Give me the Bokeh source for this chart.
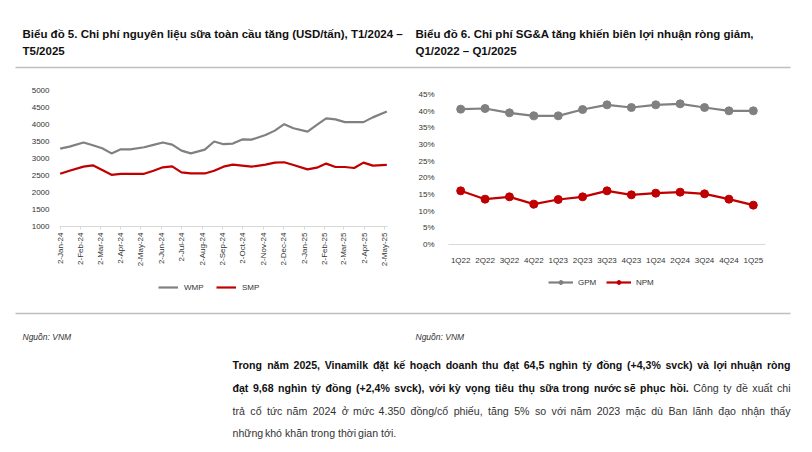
import math
import unicodedata
import pandas as pd
from bokeh.plotting import figure
from bokeh.models import (Range1d, FactorRange, FixedTicker, DatetimeTickFormatter,
                          PrintfTickFormatter, Legend, LegendItem)
from bokeh.layouts import column, row
from bokeh.embed import file_html
from bokeh.resources import INLINE
from bokeh.core.properties import value

FONT = "Liberation Sans"
NAN = float("nan")

# ---------------- data ----------------
gdt_dates = ["2024-01-02", "2024-01-16", "2024-02-06", "2024-02-20", "2024-03-05", "2024-03-19",
             "2024-04-02", "2024-04-16", "2024-05-07", "2024-05-21", "2024-06-04", "2024-06-18",
             "2024-07-02", "2024-07-16", "2024-08-06", "2024-08-20", "2024-09-03", "2024-09-17",
             "2024-10-01", "2024-10-15", "2024-11-05", "2024-11-19", "2024-12-03", "2024-12-17",
             "2025-01-07", "2025-01-21", "2025-02-04", "2025-02-18", "2025-03-04", "2025-03-18",
             "2025-04-01", "2025-04-15", "2025-05-06"]
wmp = [3290, 3350, 3470, 3390, 3300, 3150, 3270, 3270, 3330, 3400, 3470, 3410,
       3230, 3150, 3260, 3500, 3420, 3440, 3560, 3555, 3690, 3820, 4010, 3890,
       3790, 3990, 4180, 4150, 4070, 4070, 4070, 4210, 4380]
smp = [2550, 2640, 2760, 2800, 2660, 2520, 2550, 2550, 2550, 2640, 2740, 2770,
       2590, 2560, 2560, 2640, 2760, 2820, 2790, 2760, 2820, 2880, 2890, 2810,
       2680, 2730, 2850, 2750, 2750, 2720, 2880, 2790, 2810]
month_ticks = ["2024-01-02", "2024-02-02", "2024-03-02", "2024-04-02", "2024-05-02", "2024-06-02",
               "2024-07-02", "2024-08-02", "2024-09-02", "2024-10-02", "2024-11-02", "2024-12-02",
               "2025-01-02", "2025-02-02", "2025-03-02", "2025-04-02", "2025-05-02"]
y1_ticks = [1000, 1500, 2000, 2500, 3000, 3500, 4000, 4500, 5000]

quarters = ["1Q22", "2Q22", "3Q22", "4Q22", "1Q23", "2Q23", "3Q23", "4Q23",
            "1Q24", "2Q24", "3Q24", "4Q24", "1Q25"]
gpm = [40.6, 40.8, 39.5, 38.6, 38.6, 40.5, 41.9, 41.1, 41.9, 42.2, 41.1, 40.1, 40.1]
npm = [16.1, 13.6, 14.3, 12.1, 13.5, 14.3, 16.1, 14.9, 15.4, 15.7, 15.2, 13.6, 11.8]
y2_ticks = [0, 5, 10, 15, 20, 25, 30, 35, 40, 45]

title_left = ["Biểu đồ 5. Chi phí nguyên liệu sữa toàn cầu tăng (USD/tấn), T1/2024 –", "T5/2025"]
title_right = ["Biểu đồ 6. Chi phí SG&A tăng khiến biên lợi nhuận ròng giảm,", "Q1/2022 – Q1/2025"]
source_text = "Nguồn: VNM"

# paragraph lines: list of (text, bold) runs per line
para_lines = [
    [("Trong năm 2025, Vinamilk đặt kế hoạch doanh thu đạt 64,5 nghìn tỷ đồng (+4,3% svck) và lợi nhuận ròng", True)],
    [("đạt 9,68 nghìn tỷ đồng (+2,4% svck), với kỳ vọng tiêu thụ sữa trong nước sẽ phục hồi.", True),
     ("Công ty đề xuất chi", False)],
    [("trả cổ tức năm 2024 ở mức 4.350 đồng/cổ phiếu, tăng 5% so với năm 2023 mặc dù Ban lãnh đạo nhận thấy", False)],
    [("những khó khăn trong thời gian tới.", False)],
]

GRAY = "#808080"
RED = "#c00000"
LABEL = "#333333"

# approximate Arial/Liberation advance widths (1/1000 em)
_REG = dict(zip("abcdefghijklmnopqrstuvwxyz",
                [556, 556, 500, 556, 556, 278, 556, 556, 222, 222, 500, 222, 833, 556, 556, 556, 556, 333, 500, 278, 556, 500, 722, 500, 500, 500]))
_BLD = dict(zip("abcdefghijklmnopqrstuvwxyz",
                [556, 611, 556, 611, 556, 333, 611, 611, 278, 278, 556, 278, 889, 611, 611, 611, 611, 389, 556, 333, 611, 556, 778, 556, 556, 500]))
_UP = dict(zip("ABCDEFGHIJKLMNOPQRSTUVWXYZ",
               [667, 667, 722, 722, 667, 611, 778, 722, 278, 500, 667, 556, 833, 722, 778, 667, 778, 722, 667, 611, 722, 667, 944, 667, 667, 611]))
_PUN = {" ": 278, ",": 278, ".": 278, "(": 333, ")": 333, "+": 584, "%": 889, "/": 278, ":": 278, "-": 333}


def text_width(s, size, bold):
    w = 0
    for ch in s:
        base = unicodedata.normalize("NFD", ch)[0]
        if base == "đ":
            base = "d"
        if base.isdigit():
            w += 556
        elif base in _REG:
            w += (_BLD if bold else _REG)[base]
        elif base in _UP:
            w += _UP[base]
        else:
            w += _PUN.get(base, 556)
    return w * size / 1000.0


def justify(runs, x0, x1, size, justify_line=True):
    words = []
    for txt, b in runs:
        for wd in txt.split(" "):
            if wd:
                words.append((wd, b))
    widths = [text_width(w, size, b) for w, b in words]
    if justify_line and len(words) > 1:
        gap = (x1 - x0 - sum(widths)) / (len(words) - 1)
    else:
        gap = 0.278 * size
    xs, x = [], x0
    for wdt in widths:
        xs.append(x)
        x += wdt + gap
    return words, xs


def blank(w, h):
    f = figure(width=w, height=h, x_range=Range1d(0, w), y_range=Range1d(h, 0),
               output_backend="svg", toolbar_location=None, min_border=0,
               x_axis_location=None, y_axis_location=None)
    f.grid.visible = False
    f.outline_line_color = None
    return f


# ---------------- header ----------------
hdr = blank(812, 70)
hdr.text(x=[22, 22, 415, 415], y=[33, 50, 33, 50],
         text=[title_left[0], title_left[1], title_right[0], title_right[1]],
         text_font=value(FONT), text_font_style="bold", text_font_size="11.5px",
         text_baseline="middle", text_color="#111111")
hdr.segment(x0=[15], y0=[67], x1=[790], y1=[67], line_color="#bfbfbf", line_width=1.3)

# ---------------- left chart ----------------
dts = pd.to_datetime(gdt_dates)
p1 = figure(width=406, height=205, x_axis_type="datetime",
            x_range=Range1d(pd.Timestamp("2024-01-01"), pd.Timestamp("2025-05-07")),
            y_range=Range1d(1000, 5000),
            output_backend="svg", toolbar_location=None,
            min_border_left=59, min_border_right=19, min_border_top=20, min_border_bottom=49)
p1.grid.visible = False
p1.outline_line_color = None
p1.line(dts, wmp, line_color=GRAY, line_width=2.2)
p1.line(dts, smp, line_color=RED, line_width=2.2)

tick_ms = [pd.Timestamp(t).value // 10**6 for t in month_ticks]
p1.xaxis.ticker = FixedTicker(ticks=tick_ms, minor_ticks=[])
fmt = "%-d-%b-%y"
p1.xaxis.formatter = DatetimeTickFormatter(milliseconds=fmt, seconds=fmt, minsec=fmt, minutes=fmt,
                                           hourmin=fmt, hours=fmt, days=fmt, months=fmt, years=fmt)
p1.xaxis.major_label_orientation = math.pi / 2
p1.xaxis.axis_line_color = "#d9d9d9"
p1.xaxis.major_tick_line_color = "#d9d9d9"
p1.xaxis.major_tick_in = 0
p1.xaxis.major_tick_out = 3
p1.xaxis.minor_tick_line_color = None
p1.xaxis.major_label_standoff = 3
p1.yaxis.ticker = FixedTicker(ticks=y1_ticks, minor_ticks=[])
p1.yaxis.axis_line_color = None
p1.yaxis.major_tick_line_color = None
p1.yaxis.minor_tick_line_color = None
p1.yaxis.major_label_standoff = 4
for ax in (p1.xaxis, p1.yaxis):
    ax.major_label_text_font = FONT
    ax.major_label_text_font_size = "8px"
    ax.major_label_text_color = LABEL

# legend strip for the left chart (legend keys use renderers styled like the series, no visible data)
lg1 = blank(406, 35)
k_w = lg1.line(x=[NAN], y=[NAN], line_color=GRAY, line_width=2.2)
k_s = lg1.line(x=[NAN], y=[NAN], line_color=RED, line_width=2.2)
leg1 = Legend(items=[LegendItem(label="WMP", renderers=[k_w]), LegendItem(label="SMP", renderers=[k_s])],
              orientation="horizontal", location=(99, 18), border_line_color=None,
              background_fill_alpha=0, label_text_font=FONT, label_text_font_size="8px",
              label_text_color=LABEL, glyph_width=20, glyph_height=10, spacing=12,
              label_standoff=6, margin=0, padding=0, label_height=10)
lg1.add_layout(leg1)

# ---------------- right chart ----------------
p2 = figure(width=406, height=205, x_range=FactorRange(factors=quarters),
            y_range=Range1d(0, 45), output_backend="svg", toolbar_location=None,
            min_border_left=42, min_border_right=47, min_border_top=24, min_border_bottom=31)
p2.grid.visible = False
p2.outline_line_color = None
p2.line(quarters, gpm, line_color=GRAY, line_width=2.2)
p2.scatter(quarters, gpm, size=8, fill_color=GRAY, line_color=GRAY)
p2.line(quarters, npm, line_color=RED, line_width=2.2)
p2.scatter(quarters, npm, size=8, fill_color=RED, line_color=RED)
p2.yaxis.ticker = FixedTicker(ticks=y2_ticks, minor_ticks=[])
p2.yaxis.formatter = PrintfTickFormatter(format="%d%%")
p2.yaxis.axis_line_color = None
p2.yaxis.major_tick_line_color = None
p2.yaxis.minor_tick_line_color = None
p2.yaxis.major_label_standoff = 8
p2.xaxis.axis_line_color = "#d9d9d9"
p2.xaxis.major_tick_line_color = None
p2.xaxis.minor_tick_line_color = None
p2.xaxis.major_label_standoff = 5
for ax in (p2.xaxis, p2.yaxis):
    ax.major_label_text_font = FONT
    ax.major_label_text_font_size = "8px"
    ax.major_label_text_color = LABEL

lg2 = blank(406, 35)
k_gl = lg2.line(x=[NAN], y=[NAN], line_color=GRAY, line_width=2.2)
k_gc = lg2.scatter(x=[NAN], y=[NAN], size=8, fill_color=GRAY, line_color=GRAY)
k_nl = lg2.line(x=[NAN], y=[NAN], line_color=RED, line_width=2.2)
k_nc = lg2.scatter(x=[NAN], y=[NAN], size=8, fill_color=RED, line_color=RED)
leg2 = Legend(items=[LegendItem(label="GPM", renderers=[k_gl, k_gc]), LegendItem(label="NPM", renderers=[k_nl, k_nc])],
              orientation="horizontal", location=(100, 23), border_line_color=None,
              background_fill_alpha=0, label_text_font=FONT, label_text_font_size="8px",
              label_text_color=LABEL, glyph_width=25, glyph_height=10, spacing=8,
              label_standoff=5, margin=0, padding=0, label_height=10)
lg2.add_layout(leg2)

# ---------------- footer ----------------
ftr = blank(812, 142)
ftr.segment(x0=[15], y0=[3], x1=[790], y1=[3], line_color="#bfbfbf", line_width=1.3)
ftr.text(x=[22, 415], y=[26, 26], text=[source_text, source_text], text_font=value(FONT),
         text_font_style="italic", text_font_size="8.5px", text_baseline="middle", text_color="#333333")

PSIZE = 10.6
line_y = [54, 77, 100, 122]
bx, by, bt, nx, ny, nt = [], [], [], [], [], []
for i, runs in enumerate(para_lines):
    words, xs = justify(runs, 232, 790, PSIZE, justify_line=(i < len(para_lines) - 1))
    for (wd, b), xx in zip(words, xs):
        if b:
            bx.append(xx); by.append(line_y[i]); bt.append(wd)
        else:
            nx.append(xx); ny.append(line_y[i]); nt.append(wd)
common = dict(text_font=value(FONT), text_font_size=f"{PSIZE}px", text_baseline="middle", text_align="left")
ftr.text(x=bx, y=by, text=bt, text_font_style="bold", text_color="#111111", **common)
ftr.text(x=nx, y=ny, text=nt, text_color="#333333", **common)

layout = column(hdr, row(column(p1, lg1), column(p2, lg2)), ftr)
open("out.html", "w").write(file_html(layout, INLINE))
